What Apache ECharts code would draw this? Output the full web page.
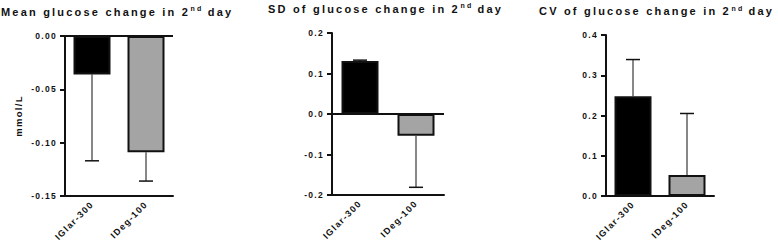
<!DOCTYPE html>
<html><head><meta charset="utf-8">
<script src="https://cdn.jsdelivr.net/npm/echarts@6/dist/echarts.min.js"></script>
<style>
html,body{margin:0;padding:0;background:#fff;}
#wrap{position:relative;width:778px;height:248px;}
#main,#titles{position:absolute;left:0;top:0;width:778px;height:248px;}
#main{letter-spacing:1.3px;}
#titles{letter-spacing:2.2px;pointer-events:none;}
</style></head><body>
<div id="wrap"><div id="main"></div><div id="titles"></div></div>
<script>
// ---- data ----
const categories = ['IGlar-300', 'IDeg-100'];
const meanValues = [-0.036, -0.109];
const meanSD = [0.081, 0.027];
const sdValues = [0.131, -0.054];
const sdSD = [0.002, 0.127];
const cvValues = [0.248, 0.052];
const cvSD = [0.091, 0.153];
const meanAxis = { min: -0.15, max: 0, interval: 0.05, decimals: 2 };
const sdAxis = { min: -0.2, max: 0.2, interval: 0.1, decimals: 1 };
const cvAxis = { min: 0, max: 0.4, interval: 0.1, decimals: 1 };
const yAxisTitle = 'mmol/L';
const titleMain = ['Mean glucose change in 2', 'SD of glucose change in 2', 'CV of glucose change in 2'];
const titleSup = 'nd';
const titleEnd = ' day';
const barColors = ['#000000', '#a4a4a4'];

// ---- chart ----
const FONT = '"Liberation Sans", Arial, sans-serif';
const ink = '#111';
const grids = [
  { left: 65, top: 36, width: 108, height: 160 },
  { left: 332, top: 33, width: 112, height: 162 },
  { left: 606, top: 35, width: 108, height: 161 }
];
const axes = [meanAxis, sdAxis, cvAxis];
const sets = [[meanValues, meanSD], [sdValues, sdSD], [cvValues, cvSD]];

const xAxis = grids.map((g, i) => ({
  type: 'category', gridIndex: i, data: categories,
  axisLine: { onZero: false, lineStyle: { color: ink, width: 2 } },
  axisTick: { alignWithLabel: true, length: 5, lineStyle: { color: ink, width: 2 } },
  axisLabel: { rotate: 45, margin: 7, color: ink, fontSize: 9, fontWeight: 'bold', fontFamily: FONT, interval: 0 }
}));
const yAxis = axes.map((a, i) => ({
  type: 'value', gridIndex: i, min: a.min, max: a.max, interval: a.interval,
  splitLine: { show: false },
  axisLine: { show: true, onZero: false, lineStyle: { color: ink, width: 2 } },
  axisTick: { show: true, length: 5, lineStyle: { color: ink, width: 2 } },
  axisLabel: { margin: 8, color: ink, fontSize: 8.5, fontWeight: 'bold', fontFamily: FONT,
    formatter: v => v.toFixed(a.decimals) },
  name: i === 0 ? yAxisTitle : '', nameLocation: 'middle', nameRotate: 90, nameGap: 42,
  nameTextStyle: { color: ink, fontSize: 9.5, fontWeight: 'bold', fontFamily: FONT }
}));

const series = [];
sets.forEach(([vals, sds], gi) => {
  const bar = {
    type: 'bar', xAxisIndex: gi, yAxisIndex: gi, barWidth: 37,
    data: vals.map((v, i) => ({ value: v, itemStyle: { color: barColors[i] } })),
    itemStyle: { borderColor: ink, borderWidth: 2 },
    silent: true
  };
  if (gi < 2) {
    bar.markLine = {
      symbol: 'none', silent: true, label: { show: false },
      lineStyle: { color: ink, width: 2, type: 'solid' },
      data: [{ yAxis: 0 }]
    };
  }
  series.push(bar);
  series.push({
    type: 'custom', xAxisIndex: gi, yAxisIndex: gi, z: 5, silent: true,
    data: vals.map((v, i) => [i, v, v + Math.sign(v) * sds[i]]),
    renderItem: (params, api) => {
      const a = api.coord([api.value(0), api.value(1)]);
      const b = api.coord([api.value(0), api.value(2)]);
      return { type: 'group', children: [
        { type: 'line', shape: { x1: a[0], y1: a[1], x2: b[0], y2: b[1] }, style: { stroke: ink, lineWidth: 1 } },
        { type: 'line', shape: { x1: b[0] - 7, y1: b[1], x2: b[0] + 7, y2: b[1] }, style: { stroke: ink, lineWidth: 1.5 } }
      ] };
    }
  });
});

const chart = echarts.init(document.getElementById('main'), null, { renderer: 'svg', width: 778, height: 248 });
chart.setOption({ animation: false, backgroundColor: '#fff', grid: grids, xAxis, yAxis, series });

// ---- titles ----
const LS = 2.2;
const mctx = document.createElement('canvas').getContext('2d');
function tw(s, size) { mctx.font = 'bold ' + size + 'px "Liberation Sans"'; return mctx.measureText(s).width + s.length * LS; }
const tx = [1, 268, 539];
const ty = [11.5, 8.8, 11.3];
const graphic = [];
titleMain.forEach((t, i) => {
  const w1 = tw(t, 11);
  const x2 = tx[i] + w1 + 0.5;
  const w2 = tw(titleSup, 7);
  graphic.push({ type: 'text', x: tx[i], y: ty[i], style: { text: t, font: 'bold 11px ' + FONT, fill: ink, verticalAlign: 'middle', align: 'left' } });
  graphic.push({ type: 'text', x: x2, y: ty[i] - 3.2, style: { text: titleSup, font: 'bold 7px ' + FONT, fill: ink, verticalAlign: 'middle', align: 'left' } });
  graphic.push({ type: 'text', x: x2 + w2 - 1, y: ty[i], style: { text: titleEnd, font: 'bold 11px ' + FONT, fill: ink, verticalAlign: 'middle', align: 'left' } });
});
const tchart = echarts.init(document.getElementById('titles'), null, { renderer: 'svg', width: 778, height: 248 });
tchart.setOption({ animation: false, graphic });
</script></body></html>
